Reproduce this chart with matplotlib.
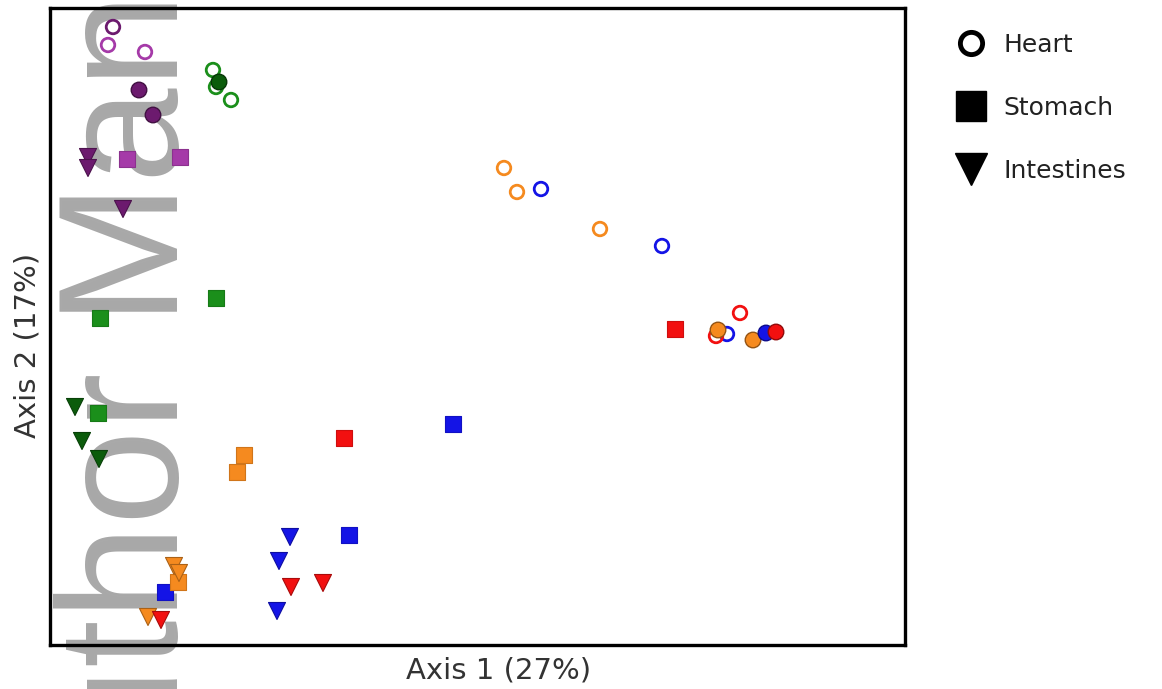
import matplotlib
matplotlib.use("Agg")
import matplotlib.pyplot as plt
from matplotlib.lines import Line2D
from matplotlib.colors import to_rgb

# Group colours
PURPLE = "#a53aa8"
DPURPLE = "#6c1a6e"
GREEN = "#1b8f1b"
DGREEN = "#0b5c0b"
ORANGE = "#f58a1f"
BLUE = "#1414e6"
RED = "#f21010"

# Heart samples (open circles)
heart_x = [-0.187, -0.192, -0.155, -0.087, -0.084, -0.069, 0.204, 0.217, 0.300,
           0.241, 0.362, 0.427, 0.440, 0.416]
heart_y = [0.281, 0.263, 0.256, 0.238, 0.221, 0.208, 0.140, 0.116, 0.079,
           0.119, 0.062, -0.026, -0.005, -0.028]
heart_c = [DPURPLE, PURPLE, PURPLE, GREEN, GREEN, GREEN, ORANGE, ORANGE, ORANGE,
           BLUE, BLUE, BLUE, RED, RED]

# Samples drawn as filled circles
solid_x = [-0.161, -0.147, -0.081, 0.418, 0.453, 0.466, 0.476]
solid_y = [0.218, 0.193, 0.226, -0.022, -0.032, -0.025, -0.024]
solid_c = [DPURPLE, DPURPLE, DGREEN, ORANGE, ORANGE, BLUE, RED]

# Stomach samples (squares)
stomach_x = [-0.173, -0.120, -0.084, -0.200, -0.202, 0.375, 0.044, 0.153, 0.049,
             -0.135, -0.056, -0.063, -0.122]
stomach_y = [0.149, 0.151, 0.010, -0.010, -0.105, -0.021, -0.130, -0.116, -0.227,
             -0.284, -0.147, -0.164, -0.274]
stomach_c = [PURPLE, PURPLE, GREEN, GREEN, GREEN, RED, RED, BLUE, BLUE,
             BLUE, ORANGE, ORANGE, ORANGE]

# Intestine samples (down triangles)
intest_x = [-0.212, -0.212, -0.177, -0.225, -0.218, -0.201, -0.126, -0.121, -0.152,
            -0.139, -0.009, 0.023, -0.010, -0.021, -0.023]
intest_y = [0.151, 0.140, 0.099, -0.099, -0.133, -0.151, -0.258, -0.265, -0.309,
            -0.312, -0.279, -0.275, -0.229, -0.253, -0.303]
intest_c = [DPURPLE, DPURPLE, DPURPLE, DGREEN, DGREEN, DGREEN, ORANGE, ORANGE, ORANGE,
            RED, RED, RED, BLUE, BLUE, BLUE]

legend_labels = ["Heart", "Stomach", "Intestines"]
xlabel = "Axis 1 (27%)"
ylabel = "Axis 2 (17%)"


def darker(c, f=0.7):
    r, g, b = to_rgb(c)
    return (r * f, g * f, b * f)


W, H = 1162, 689
fig = plt.figure(figsize=(W / 100, H / 100), dpi=100)
fig.patch.set_facecolor("white")

ax = fig.add_axes([50 / W, 1 - 645 / H, 855 / W, 637 / H])
ax.set_facecolor("none")
ax.set_zorder(1)

# faint grey manuscript watermark behind the plot
fig.text(178 / W, 1 - 876 / H, "Author Manuscript", rotation=90,
         rotation_mode="anchor", ha="left", va="baseline",
         fontsize=123, family="Liberation Sans", color="#a8a8a8", zorder=0)

ax.scatter(stomach_x, stomach_y, marker="s", s=130, c=stomach_c,
           edgecolors=[darker(c, 0.85) for c in stomach_c], linewidths=0.8, zorder=3)
ax.scatter(intest_x, intest_y, marker="v", s=150, c=intest_c,
           edgecolors=[darker(c, 0.7) for c in intest_c], linewidths=0.8, zorder=3)
ax.scatter(heart_x, heart_y, marker="o", s=95, facecolors="none",
           edgecolors=heart_c, linewidths=2.0, zorder=4)
ax.scatter(solid_x, solid_y, marker="o", s=125, c=solid_c,
           edgecolors=[darker(c, 0.6) for c in solid_c], linewidths=1.0, zorder=5)

ax.set_xlim(-0.25, 0.605)
ax.set_ylim(-0.337, 0.30)
ax.set_xticks([])
ax.set_yticks([])
for sp in ax.spines.values():
    sp.set_linewidth(2.4)
    sp.set_color("black")

fig.text(499 / W, 1 - 670 / H, xlabel, ha="center", va="center",
         fontsize=21, color="#333333")
fig.text(28 / W, 1 - 345 / H, ylabel, ha="center", va="center", rotation=90,
         fontsize=21, color="#333333")

handles = [
    Line2D([], [], ls="none", marker="o", ms=16, mfc="white", mec="black", mew=3.5),
    Line2D([], [], ls="none", marker="s", ms=21, mfc="black", mec="black"),
    Line2D([], [], ls="none", marker="v", ms=23, mfc="black", mec="black"),
]
fig.legend(handles, legend_labels, loc="upper left",
           bbox_to_anchor=(958 / W, 1 - 33 / H), frameon=False, fontsize=18,
           handlelength=1.0, handletextpad=0.8, labelspacing=1.55,
           borderpad=0, borderaxespad=0, labelcolor="#222222")

fig.savefig("out.png", dpi=100, facecolor="white")
